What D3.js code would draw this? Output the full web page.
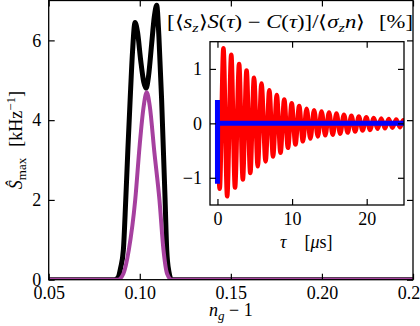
<!DOCTYPE html>
<html>
<head>
<meta charset="utf-8">
<script src="https://cdnjs.cloudflare.com/ajax/libs/d3/7.8.5/d3.min.js"></script>
<style>
  body { margin: 0; background: #fff; }
  svg { display: block; }
  .tick line { stroke: #000; stroke-width: 1.2px; }
  .frame { fill: none; stroke: #000; stroke-width: 1.3px; }
</style>
</head>
<body>
<script>

// main panel: S_max vs n_g - 1
var ngBlack = [0.05, 0.086, 0.088, 0.0895, 0.091, 0.0923, 0.0935, 0.0947, 0.096, 0.0974,
               0.0988, 0.1005, 0.1022, 0.1035, 0.1048, 0.1065, 0.108, 0.1093, 0.1105,
               0.112, 0.1139, 0.1148, 0.116, 0.1175, 0.25];
var sBlack  = [0, 0, 0.05, 0.3, 0.75, 2.0, 3.3, 4.5, 5.7, 6.45,
               6.2, 5.5, 4.95, 4.8, 5.1, 5.9, 6.6, 6.88, 6.1,
               4.5, 2.0, 0.75, 0.2, 0, 0];
var ngMag   = [0.05, 0.088, 0.091, 0.094, 0.0975, 0.100, 0.102, 0.1038, 0.1055, 0.108,
               0.1108, 0.113, 0.115, 0.1176, 0.25];
var sMag    = [0, 0, 0.15, 0.75, 2.0, 3.4, 4.3, 4.70, 4.35, 3.2,
               2.0, 0.75, 0.15, 0, 0];
var mainXTicks = [0.05, 0.10, 0.15, 0.20, 0.25];
var mainYTicks = [0, 2, 4, 6];

// inset: oscillating correlation difference (extrema)
var peakTau = [0.8, 1.85, 2.9, 3.9, 4.9, 5.9, 6.95, 7.95, 8.95, 9.95, 10.95, 11.95, 12.95,
               13.95, 14.95, 15.95, 16.95, 17.95, 18.95, 19.95, 20.95, 21.95, 22.95, 23.95, 24.9];
var peakVal = [1.38, 1.26, 1.09, 0.97, 0.84, 0.73, 0.61, 0.52, 0.44, 0.37, 0.32, 0.27, 0.24,
               0.22, 0.20, 0.18, 0.16, 0.14, 0.125, 0.11, 0.10, 0.09, 0.08, 0.07, 0.055];
var troughTau = [0.3, 1.3, 2.35, 3.4, 4.4, 5.4, 6.45, 7.45, 8.45, 9.45, 10.45, 11.45, 12.45,
                 13.45, 14.45, 15.45, 16.45, 17.45, 18.45, 19.45, 20.45, 21.45, 22.45, 23.45, 24.45];
var troughVal = [-1.2, -1.34, -1.18, -1.03, -0.91, -0.79, -0.70, -0.61, -0.54, -0.45, -0.39, -0.33, -0.28,
                 -0.24, -0.22, -0.21, -0.19, -0.17, -0.15, -0.13, -0.12, -0.10, -0.09, -0.08, -0.07];
var blueTau = [0, 0, 0.02, 25];
var blueVal = [0.43, -1.11, 0, 0];
var insetXTicks = [0, 10, 20];
var insetYTicks = [-1, 0, 1];

var FONT = "'Liberation Serif', 'Times New Roman', serif";
var W = 420, H = 326;
var svg = d3.select("body").append("svg").attr("width", W).attr("height", H)
  .style("font-family", FONT);

function styleAxis(g) {
  g.select(".domain").remove();
  g.attr("font-family", null).attr("font-size", null);
  g.selectAll("text").style("font-family", FONT).style("font-size", "18px").attr("fill", "#000");
}

// ---- main axes ----
var m = {left: 48.7, right: 413, top: 0.5, bottom: 279.7};
var x = d3.scaleLinear().domain([0.05, 0.25]).range([m.left, m.right]);
var y = d3.scaleLinear().domain([0, 7]).range([m.bottom, m.top]);

svg.append("clipPath").attr("id", "clipMain")
  .append("rect").attr("x", m.left).attr("y", m.top)
  .attr("width", m.right - m.left).attr("height", m.bottom - m.top);

var mainLine = d3.line()
  .x(function(d) { return x(d[0]); })
  .y(function(d) { return y(d[1]); })
  .curve(d3.curveMonotoneX);

svg.append("path")
  .attr("clip-path", "url(#clipMain)")
  .attr("d", mainLine(d3.zip(ngBlack, sBlack)))
  .attr("fill", "none").attr("stroke", "#000").attr("stroke-width", 5)
  .attr("stroke-linejoin", "round");

svg.append("path")
  .attr("clip-path", "url(#clipMain)")
  .attr("d", mainLine(d3.zip(ngMag, sMag)))
  .attr("fill", "none").attr("stroke", "#a6409f").attr("stroke-width", 4)
  .attr("stroke-linejoin", "round");

// ticks on all four sides, pointing inward
svg.append("g").attr("transform", "translate(0," + m.bottom + ")")
  .call(d3.axisBottom(x).tickValues(mainXTicks).tickFormat(d3.format(".2f"))
    .tickSizeInner(-6).tickSizeOuter(0).tickPadding(7))
  .call(styleAxis);
svg.append("g").attr("transform", "translate(0," + m.top + ")")
  .call(d3.axisTop(x).tickValues(mainXTicks).tickFormat("").tickSizeInner(-6).tickSizeOuter(0))
  .call(styleAxis);
svg.append("g").attr("transform", "translate(" + m.left + ",0)")
  .call(d3.axisLeft(y).tickValues(mainYTicks).tickFormat(d3.format("d"))
    .tickSizeInner(-6).tickSizeOuter(0).tickPadding(7.5))
  .call(styleAxis);
svg.append("g").attr("transform", "translate(" + m.right + ",0)")
  .call(d3.axisRight(y).tickValues(mainYTicks).tickFormat("").tickSizeInner(-6).tickSizeOuter(0))
  .call(styleAxis);

svg.append("rect").attr("class", "frame")
  .attr("x", m.left).attr("y", m.top)
  .attr("width", m.right - m.left).attr("height", m.bottom - m.top);

// axis labels
var xl = svg.append("text").attr("x", (m.left + m.right) / 2).attr("y", 316)
  .attr("text-anchor", "middle").attr("font-size", 18);
xl.append("tspan").attr("font-style", "italic").text("n");
xl.append("tspan").attr("font-style", "italic").attr("font-size", 13).attr("dy", 4).text("g");
xl.append("tspan").attr("dy", -4).text(" \u2212 1");

var yl = svg.append("text").attr("transform", "translate(22," + ((m.top + m.bottom) / 2) + ") rotate(-90)")
  .attr("text-anchor", "middle").attr("font-size", 18);
yl.append("tspan").attr("font-style", "italic").text("\u015C");
yl.append("tspan").attr("font-size", 13).attr("dy", 4).text("max");
yl.append("tspan").attr("dy", -4).attr("dx", 11).text("[kHz");
yl.append("tspan").attr("font-size", 13).attr("dy", -7).text("\u22121");
yl.append("tspan").attr("dy", 7).text("]");

// ---- inset axes ----
var n = {left: 210, right: 404, top: 41.7, bottom: 205};
var ix = d3.scaleLinear().domain([-1, 25]).range([n.left, n.right]);
var iy = d3.scaleLinear().domain([-1.5, 1.5]).range([n.bottom, n.top]);

svg.append("rect").attr("x", n.left).attr("y", n.top)
  .attr("width", n.right - n.left).attr("height", n.bottom - n.top).attr("fill", "#fff");

svg.append("clipPath").attr("id", "clipInset")
  .append("rect").attr("x", n.left).attr("y", n.top)
  .attr("width", n.right - n.left).attr("height", n.bottom - n.top);

var insetLine = d3.line()
  .x(function(d) { return ix(d[0]); })
  .y(function(d) { return iy(d[1]); });

var redPts = [[0, 0]].concat(d3.zip(peakTau, peakVal), d3.zip(troughTau, troughVal), [[25, 0]]);
redPts.sort(function(a, b) { return a[0] - b[0]; });

svg.append("path")
  .attr("clip-path", "url(#clipInset)")
  .attr("d", insetLine.curve(d3.curveMonotoneX)(redPts))
  .attr("fill", "none").attr("stroke", "#ff0000").attr("stroke-width", 4.5)
  .attr("stroke-linejoin", "round");

svg.append("path")
  .attr("clip-path", "url(#clipInset)")
  .attr("d", insetLine.curve(d3.curveLinear)(d3.zip(blueTau, blueVal)))
  .attr("fill", "none").attr("stroke", "#0000ff").attr("stroke-width", 5);

svg.append("g").attr("transform", "translate(0," + n.bottom + ")")
  .call(d3.axisBottom(ix).tickValues(insetXTicks).tickFormat(d3.format("d"))
    .tickSizeInner(-6).tickSizeOuter(0).tickPadding(7))
  .call(styleAxis);
svg.append("g").attr("transform", "translate(0," + n.top + ")")
  .call(d3.axisTop(ix).tickValues(insetXTicks).tickFormat("").tickSizeInner(-6).tickSizeOuter(0))
  .call(styleAxis);
svg.append("g").attr("transform", "translate(" + n.left + ",0)")
  .call(d3.axisLeft(iy).tickValues(insetYTicks).tickFormat(d3.format("d"))
    .tickSizeInner(-6).tickSizeOuter(0).tickPadding(8))
  .call(styleAxis);
svg.append("g").attr("transform", "translate(" + n.right + ",0)")
  .call(d3.axisRight(iy).tickValues(insetYTicks).tickFormat("").tickSizeInner(-6).tickSizeOuter(0))
  .call(styleAxis);

svg.append("rect").attr("class", "frame")
  .attr("x", n.left).attr("y", n.top)
  .attr("width", n.right - n.left).attr("height", n.bottom - n.top);

// inset title
var tt = svg.append("text").attr("x", 290).attr("y", 28)
  .attr("text-anchor", "middle").attr("font-size", 18);
tt.append("tspan").text("[\u27E8");
tt.append("tspan").attr("font-style", "italic").text("s");
tt.append("tspan").attr("font-style", "italic").attr("font-size", 13).attr("dy", 4).text("z");
tt.append("tspan").attr("dy", -4).text("\u27E9");
tt.append("tspan").attr("font-style", "italic").text("S");
tt.append("tspan").text("(");
tt.append("tspan").attr("font-style", "italic").text("\u03C4");
tt.append("tspan").text(") \u2212 ");
tt.append("tspan").attr("font-style", "italic").text("C");
tt.append("tspan").text("(");
tt.append("tspan").attr("font-style", "italic").text("\u03C4");
tt.append("tspan").text(")]/\u27E8");
tt.append("tspan").attr("font-style", "italic").text("\u03C3");
tt.append("tspan").attr("font-style", "italic").attr("font-size", 13).attr("dy", 4).text("z");
tt.append("tspan").attr("font-style", "italic").attr("dy", -4).text("n");
tt.append("tspan").text("\u27E9");
tt.append("tspan").attr("dx", 11).text("[%]");
// stretch to the width it takes in the figure
tt.attr("textLength", null);
var tw = tt.node().getComputedTextLength();
if (tw > 0) tt.attr("transform", "translate(290,28) scale(" + (232 / tw) + ",1) translate(-290,-28)");

// inset x label
var il = svg.append("text").attr("x", 280).attr("y", 248).attr("font-size", 18);
il.append("tspan").attr("font-style", "italic").text("\u03C4");
il.append("tspan").attr("dx", 18).text("[");
il.append("tspan").attr("font-style", "italic").text("\u03BC");
il.append("tspan").text("s]");

</script>
</body>
</html>
